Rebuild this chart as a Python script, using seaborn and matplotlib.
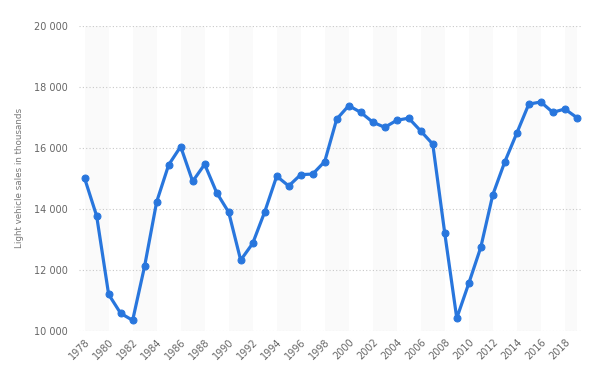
import matplotlib
matplotlib.use("Agg")
import matplotlib.pyplot as plt
import matplotlib.ticker as mticker
import seaborn as sns
import pandas as pd

# Data
years = list(range(1978, 2020))
sales = [15000, 13770, 11200, 10580, 10350, 12130, 14230, 15440, 16040, 14900,
         15460, 14530, 13890, 12320, 12870, 13900, 15070, 14750, 15120, 15140,
         15550, 16940, 17380, 17160, 16840, 16670, 16900, 16970, 16550, 16120,
         13200, 10420, 11560, 12740, 14460, 15540, 16480, 17430, 17500, 17160,
         17270, 16990]
y_label = "Light vehicle sales in thousands"

df = pd.DataFrame({"year": years, "sales": sales})

sns.set_theme(style="white")
plt.rcParams["font.family"] = ["DejaVu Sans"]

fig = plt.figure(figsize=(5.93, 3.77), dpi=100)
ax = fig.add_axes([0.1332, 0.122, 0.848, 0.81])

# alternating background stripes
for start in range(1978, 2020, 4):
    ax.axvspan(start, min(start + 2, 2019), color="#fafafa", zorder=0, lw=0)

sns.lineplot(data=df, x="year", y="sales", ax=ax, color="#2876dd",
             linewidth=2.3, marker="o", markersize=5,
             markeredgecolor="#2876dd", zorder=3)

ax.set_xlim(1977.53, 2019.42)
ax.set_ylim(10000, 20000)
ax.set_yticks(range(10000, 20001, 2000))
ax.yaxis.set_major_formatter(mticker.FuncFormatter(lambda v, p: f"{int(v):,}".replace(",", " ")))
ax.set_xticks(range(1978, 2020, 2))
ax.set_xticklabels([str(y) for y in range(1978, 2020, 2)], rotation=45,
                   ha="right", rotation_mode="anchor")

ax.grid(axis="y", linestyle=(0, (1, 2)), color="#c8c8c8", linewidth=0.8)
ax.grid(axis="x", visible=False)
for s in ax.spines.values():
    s.set_visible(False)

ax.tick_params(axis="both", length=0, labelsize=7, labelcolor="#666666")
ax.tick_params(axis="y", pad=8)
ax.tick_params(axis="x", pad=4)
ax.set_xlabel("")
ax.set_ylabel(y_label, fontsize=6.3, color="#777777", labelpad=7)

fig.savefig("out.png", dpi=100)
